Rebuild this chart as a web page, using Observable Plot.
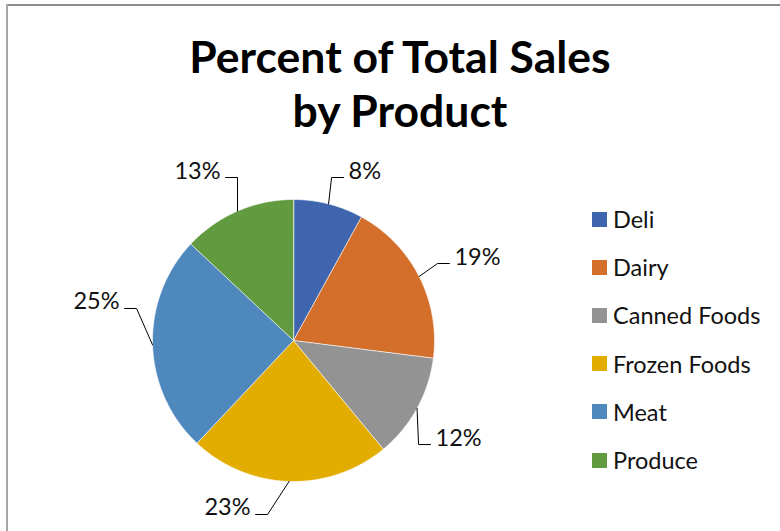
<!DOCTYPE html>
<html>
<head>
<meta charset="utf-8">
<script src="https://cdn.jsdelivr.net/npm/d3@7"></script>
<script src="https://cdn.jsdelivr.net/npm/@observablehq/plot@0.6"></script>
<style>
  html, body { margin: 0; padding: 0; background: #fff; }
  #wrap { position: relative; width: 780px; height: 531px; overflow: hidden; background: #fff; }
  #borderTop { position: absolute; left: 6px; top: 4px; width: 774px; height: 1.5px; background: #8c8c8c; }
  #borderLeft { position: absolute; left: 6px; top: 4px; width: 1.5px; height: 527px; background: #a6a6a6; }
  #title { position: absolute; left: 0; width: 800px; top: 29px; text-align: center;
           font-family: Lato, "Open Sans", sans-serif; font-weight: 700; font-size: 44.5px; line-height: 54px; color: #000; }
  #chart { position: absolute; left: 0; top: 0; }
  #legend { position: absolute; left: 592px; top: 195px; }
  .lg-swatches { font-family: Lato, sans-serif !important; font-size: 23.5px !important; color: #111 !important; margin: 0 !important; columns: auto !important; }
  .lg-swatch { height: 48.2px; padding: 0 !important; margin: 0 !important; display: flex !important; align-items: center !important; }
  .lg-swatch svg { margin-right: 6px !important; }
</style>
</head>
<body>
<div id="wrap">
  <div id="borderTop"></div>
  <div id="borderLeft"></div>
  <div id="chart"></div>
  <div id="title">Percent of Total Sales<br>by Product</div>
  <div id="legend"></div>
</div>
<script>
// ---- data ----
const categories = ["Deli", "Dairy", "Canned Foods", "Frozen Foods", "Meat", "Produce"];
const percents = [8, 19, 12, 23, 25, 13];
const colors = ["#3e65ad", "#d36f2b", "#939393", "#e2ac00", "#4f88bd", "#629b3f"];

// ---- layout (label elbow positions in pie-radius units) ----
const labelElbows = [
  [0.27, 1.156], [1.021, 0.546], [0.887, -0.738],
  [-0.184, -1.234], [-1.113, 0.227], [-0.397, 1.156]
];
const tail = 0.085;

const pie = d3.pie().sort(null).value(d => d.value);
const arcs = pie(categories.map((name, i) => ({name, value: percents[i]})));

// slice polygons
const slicePts = [];
for (const a of arcs) {
  const name = a.data.name;
  slicePts.push({name, x: 0, y: 0});
  const n = Math.max(2, Math.ceil((a.endAngle - a.startAngle) / (Math.PI / 360)));
  for (let k = 0; k <= n; k++) {
    const t = a.startAngle + (a.endAngle - a.startAngle) * k / n;
    slicePts.push({name, x: Math.sin(t), y: Math.cos(t)});
  }
}

// leader lines + labels
const leaderPts = [];
const labels = [];
arcs.forEach((a, i) => {
  const name = a.data.name;
  const mid = (a.startAngle + a.endAngle) / 2;
  const [ex, ey] = labelElbows[i];
  const right = ex > 0;
  const endX = ex + (right ? tail : -tail);
  leaderPts.push({name, x: Math.sin(mid), y: Math.cos(mid)});
  leaderPts.push({name, x: ex, y: ey});
  leaderPts.push({name, x: endX, y: ey});
  labels.push({name, x: endX, y: ey, right, text: a.data.value + "%"});
});

const plot = Plot.plot({
  width: 780,
  height: 531,
  margin: 0,
  x: {domain: [-1, 1], range: [152, 434], axis: null},
  y: {domain: [-1, 1], range: [481, 199], axis: null},
  color: {domain: categories, range: colors},
  style: {background: "transparent", overflow: "visible"},
  marks: [
    Plot.line(slicePts, {x: "x", y: "y", z: "name", fill: "name", stroke: "#ffffff", strokeWidth: 0.8, strokeOpacity: 0.8, curve: "linear-closed"}),
    Plot.line(leaderPts, {x: "x", y: "y", z: "name", stroke: "#000", strokeWidth: 1}),
    Plot.text(labels.filter(d => d.right), {x: "x", y: "y", text: "text", textAnchor: "start", lineAnchor: "bottom", dx: 5, dy: 1, fontSize: 23.5, fontFamily: "Lato, sans-serif", fill: "#111"}),
    Plot.text(labels.filter(d => !d.right), {x: "x", y: "y", text: "text", textAnchor: "end", lineAnchor: "bottom", dx: -5, dy: 1, fontSize: 23.5, fontFamily: "Lato, sans-serif", fill: "#111"})
  ]
});
document.getElementById("chart").appendChild(plot);

const legend = Plot.legend({
  color: {domain: categories, range: colors},
  legend: "swatches",
  columns: 1,
  swatchSize: 15,
  className: "lg"
});
document.getElementById("legend").appendChild(legend);
</script>
</body>
</html>
